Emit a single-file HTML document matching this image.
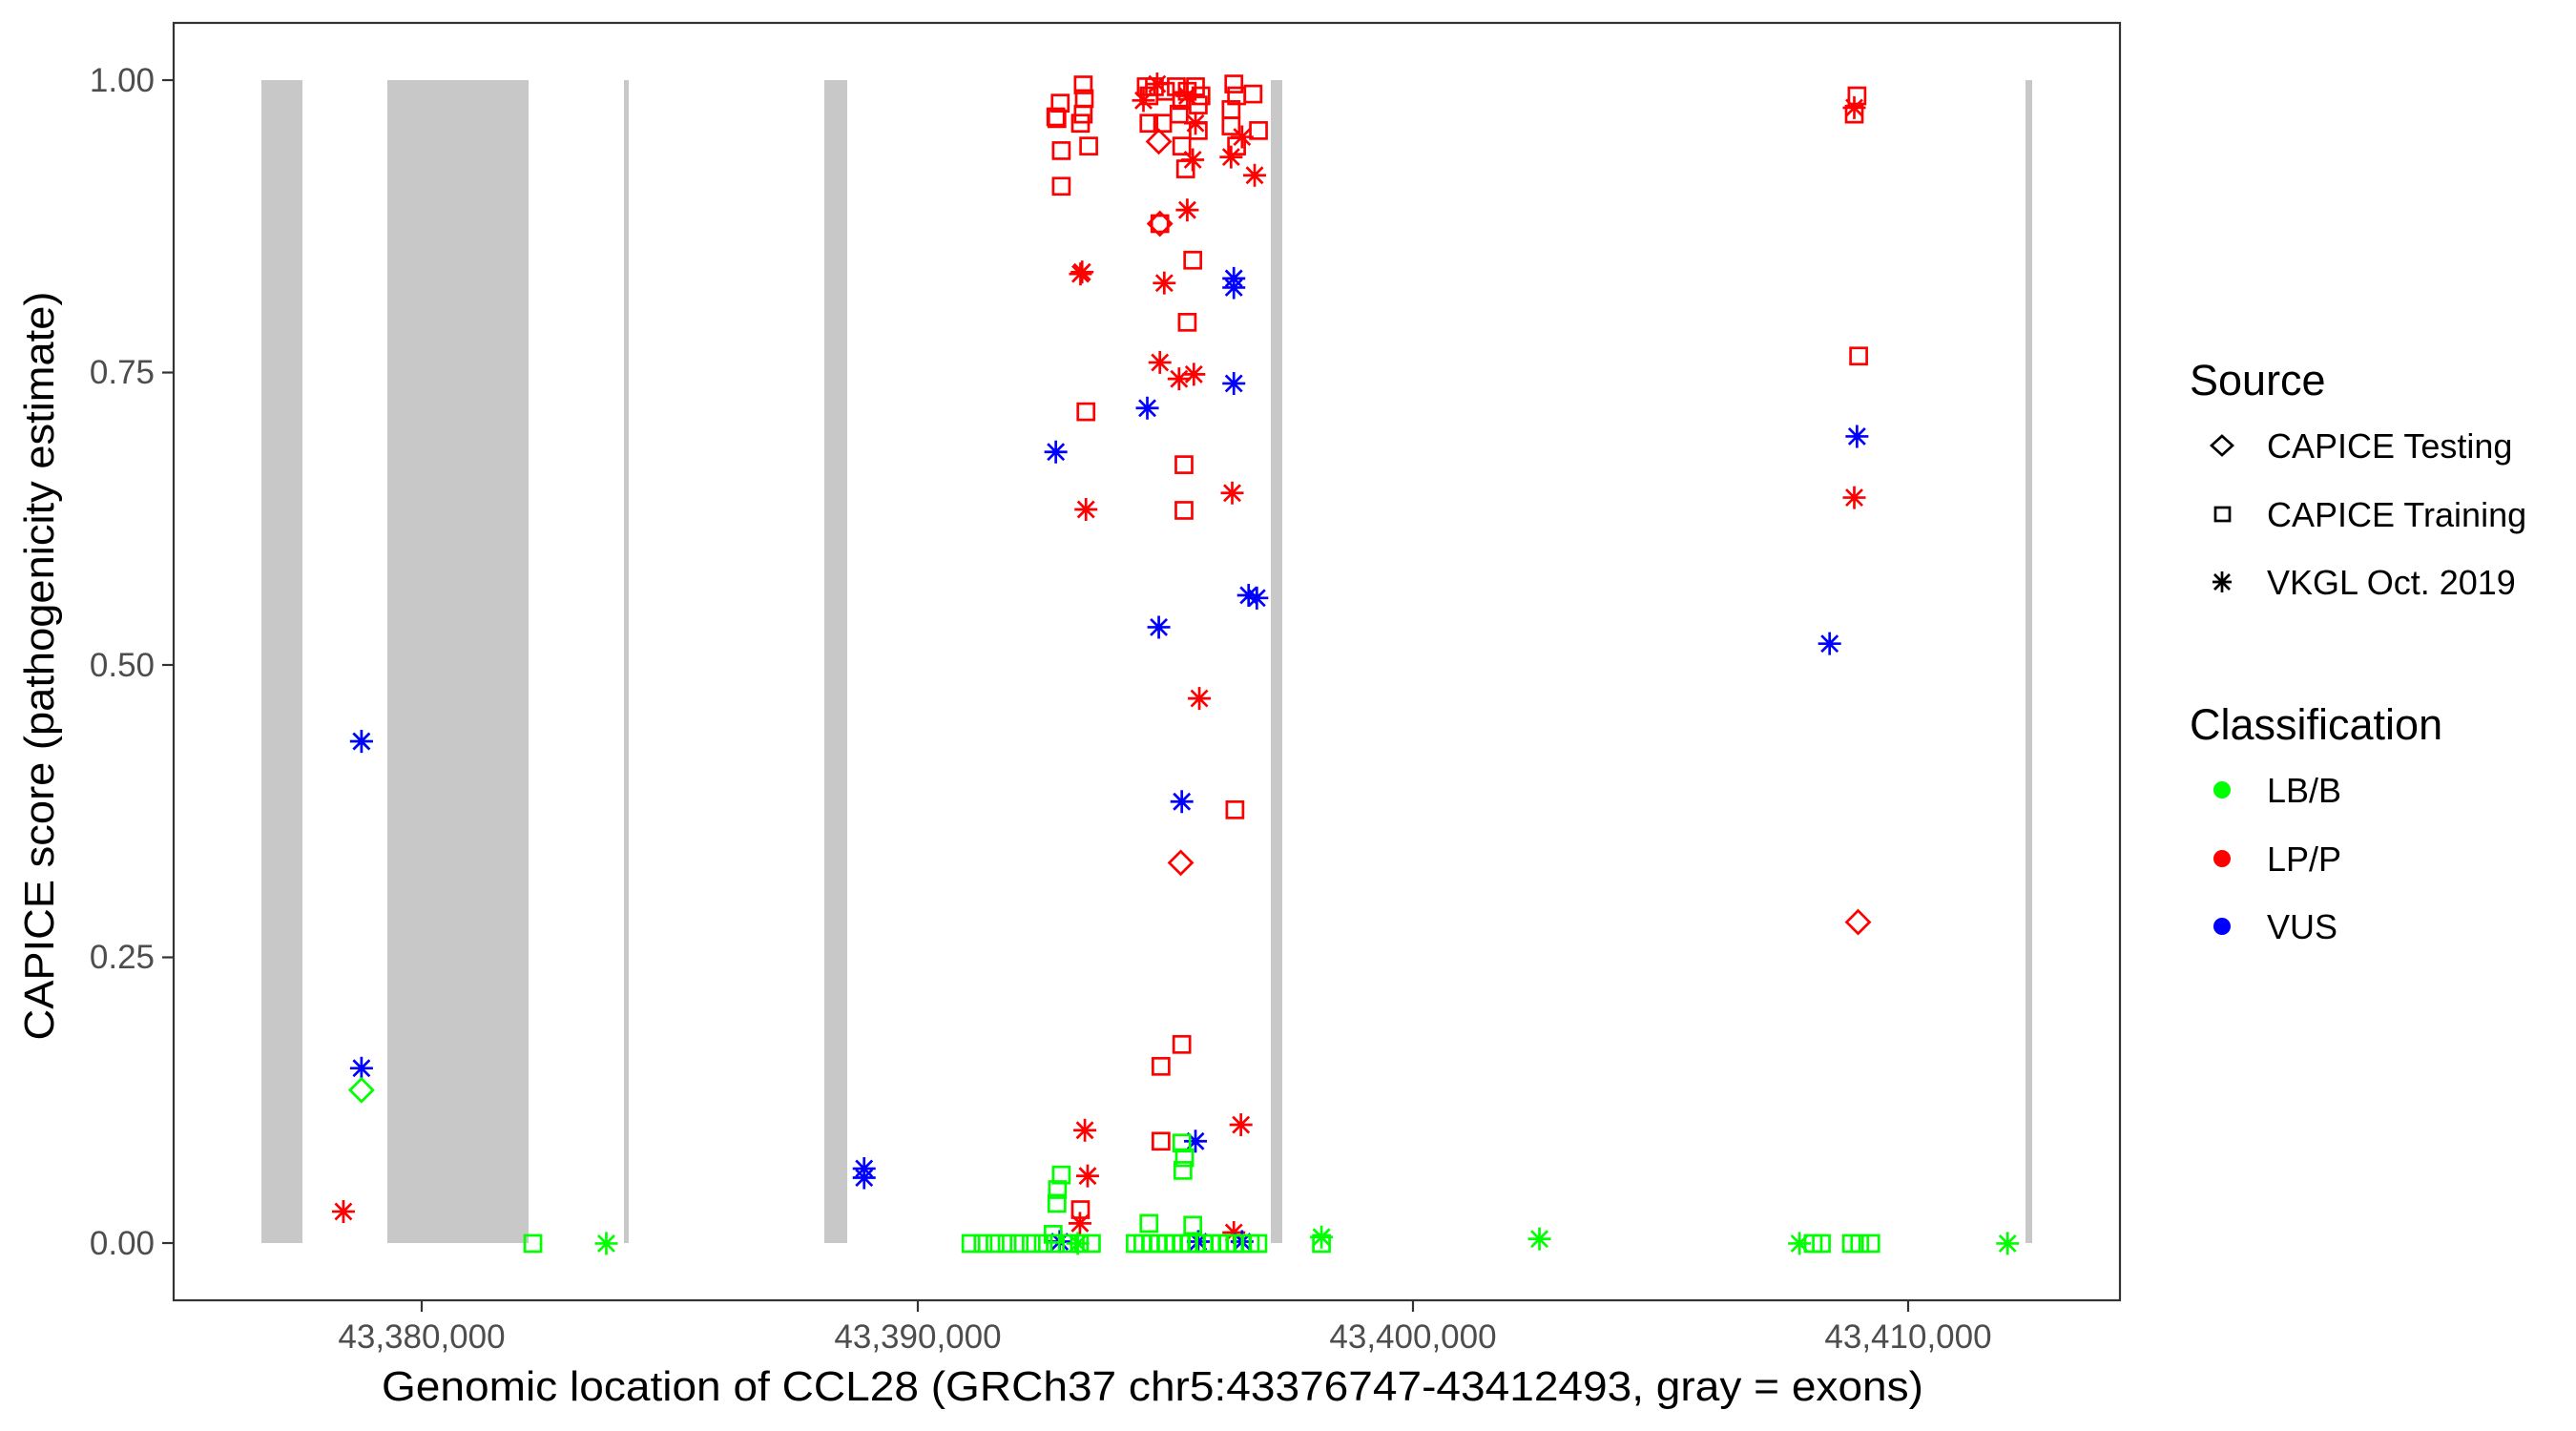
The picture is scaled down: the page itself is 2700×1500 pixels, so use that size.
<!DOCTYPE html>
<html><head><meta charset="utf-8"><style>html,body{margin:0;padding:0;background:#fff}svg{display:block}</style></head>
<body>
<svg id="s" xmlns="http://www.w3.org/2000/svg" width="2700" height="1500" viewBox="0 0 2700 1500" font-family="Liberation Sans, sans-serif">
<rect width="2700" height="1500" fill="#fff"/>
<g fill="#C8C8C8">
<rect x="274" y="84" width="43" height="1219"/>
<rect x="406" y="84" width="148" height="1219"/>
<rect x="654" y="84" width="5" height="1219"/>
<rect x="864" y="84" width="24" height="1219"/>
<rect x="1332" y="84" width="12" height="1219"/>
<rect x="2123" y="84" width="7" height="1219"/>
</g>
<g id="pts" fill="none" stroke-width="2.7"></g>
<rect x="182" y="24" width="2040" height="1339" fill="none" stroke="#333" stroke-width="2.2"/>
<g stroke="#333" stroke-width="2.2">
<line x1="170" y1="84" x2="182" y2="84"/><line x1="170" y1="390.5" x2="182" y2="390.5"/>
<line x1="170" y1="697" x2="182" y2="697"/><line x1="170" y1="1003.5" x2="182" y2="1003.5"/>
<line x1="170" y1="1303" x2="182" y2="1303"/>
<line x1="442" y1="1363" x2="442" y2="1375"/><line x1="962" y1="1363" x2="962" y2="1375"/>
<line x1="1481" y1="1363" x2="1481" y2="1375"/><line x1="2000" y1="1363" x2="2000" y2="1375"/>
</g>
<g font-size="35" fill="#4D4D4D" text-anchor="end">
<text x="162" y="96">1.00</text><text x="162" y="402">0.75</text><text x="162" y="709">0.50</text>
<text x="162" y="1015">0.25</text><text x="162" y="1315">0.00</text>
</g>
<g font-size="35" fill="#4D4D4D" text-anchor="middle">
<text x="442" y="1413">43,380,000</text><text x="962" y="1413">43,390,000</text>
<text x="1481" y="1413">43,400,000</text><text x="2000" y="1413">43,410,000</text>
</g>
<text x="1208" y="1468" font-size="44" text-anchor="middle" textLength="1616" lengthAdjust="spacingAndGlyphs">Genomic location of CCL28 (GRCh37 chr5:43376747-43412493, gray = exons)</text>
<text transform="translate(56,698) rotate(-90)" font-size="44" text-anchor="middle" textLength="785" lengthAdjust="spacingAndGlyphs">CAPICE score (pathogenicity estimate)</text>
<text x="2295" y="414" font-size="45">Source</text>
<g font-size="36"><text x="2376" y="480">CAPICE Testing</text><text x="2376" y="552">CAPICE Training</text><text x="2376" y="623">VKGL Oct. 2019</text>
<text x="2376" y="841">LB/B</text><text x="2376" y="913">LP/P</text><text x="2376" y="984">VUS</text></g>
<text x="2295" y="775" font-size="45">Classification</text>
<g stroke="#000" stroke-width="2.7" fill="none">
<path d="M2329 457 L2340 467 L2329 477 L2318 467 Z"/>
<rect x="2322" y="532" width="15" height="14"/>
<path d="M2329 599V621M2319 610H2339M2321 602L2337 618M2337 602L2321 618"/>
</g>
<circle cx="2329" cy="828" r="9" fill="#00FF00"/><circle cx="2329" cy="900" r="9" fill="#FF0000"/><circle cx="2329" cy="971" r="9" fill="#0000FF"/>
</svg>
<script>
var R="#FF0000",G="#00FF00",B="#0000FF";
var pts=[];
function add(off,arr,shape,col){arr.forEach(function(p){pts.push([off+p[0]/1.742,p[1]*0.957,shape,col]);});}
// zoom2 offset 900
add(900,[[410,93],[412,108],[410,125],[368,113],[360,128],[362,130],[420,160],[370,165],[370,204],[405,135],[525,95],[530,105],[540,95],[560,100],[580,95],[600,100],[615,95],[625,105],[620,115],[590,110],[530,135],[555,135],[585,125],[590,160],[597,185],[620,143],[685,92],[690,105],[720,103],[680,120],[680,138],[730,143],[690,160],[550,245],[610,285],[600,353],[415,451],[594,509],[594,559],[687,887],[590,1144],[552,1168],[552,1250],[405,1325]],"s",R);
add(900,[[545,92],[520,110],[600,105],[615,135],[610,175],[680,172],[700,150],[723,192],[600,230],[405,300],[408,298],[558,310],[550,397],[585,415],[612,410],[415,558],[682,540],[622,765],[413,1238],[418,1288],[698,1232],[404,1340],[685,1350]],"a",R);
add(900,[[548,155],[550,245],[588,945]],"d",R);
add(900,[[685,305],[685,315],[527,447],[360,495],[685,420],[712,652],[727,655],[548,687],[590,878],[615,1250],[10,1280],[10,1290],[367,1360],[620,1360],[700,1360]],"a",B);
var gs=[[370,1287],[363,1303],[362,1318],[590,1252],[595,1268],[592,1282],[530,1340],[610,1342],[355,1352],[845,1362]];
for(var x=205;x<=435;x+=22)gs.push([x,1362]);
for(var x=505;x<=740;x+=14)gs.push([x,1362]);
add(900,gs,"s",G);
add(900,[[845,1355],[1243,1357],[400,1362]],"a",G);
// zoom1
add(0,[[660,812]],"a",G);add(0,[[660,812],[660,1170]],"a",B);add(0,[[660,1194]],"d",G);add(0,[[627,1327]],"a",R);
add(0,[[973,1362]],"s",G);add(0,[[1107,1362]],"a",G);
// zoom3
add(1800,[[255,105],[250,125],[258,390]],"s",R);add(1800,[[250,118],[250,545]],"a",R);
add(1800,[[255,478],[205,705]],"a",B);add(1800,[[257,1010]],"d",R);
add(1800,[[150,1362],[530,1362]],"a",G);add(1800,[[175,1362],[190,1362],[245,1362],[260,1362],[280,1362]],"s",G);
var h="";
pts.forEach(function(p){var x=p[0].toFixed(1),y=p[1].toFixed(1),c=p[3],X=p[0],Y=p[1];
if(p[2]=="s")h+='<rect x="'+(X-8.5)+'" y="'+(Y-8.5)+'" width="17" height="17" stroke="'+c+'"/>';
else if(p[2]=="d")h+='<path d="M'+X+' '+(Y-12)+'L'+(X+12)+' '+Y+'L'+X+' '+(Y+12)+'L'+(X-12)+' '+Y+'Z" stroke="'+c+'"/>';
else h+='<path d="M'+X+' '+(Y-12)+'V'+(Y+12)+'M'+(X-12)+' '+Y+'H'+(X+12)+'M'+(X-8.5)+' '+(Y-8.5)+'L'+(X+8.5)+' '+(Y+8.5)+'M'+(X+8.5)+' '+(Y-8.5)+'L'+(X-8.5)+' '+(Y+8.5)+'" stroke="'+c+'"/>';});
document.getElementById("pts").innerHTML=h;
</script>
</body></html>
